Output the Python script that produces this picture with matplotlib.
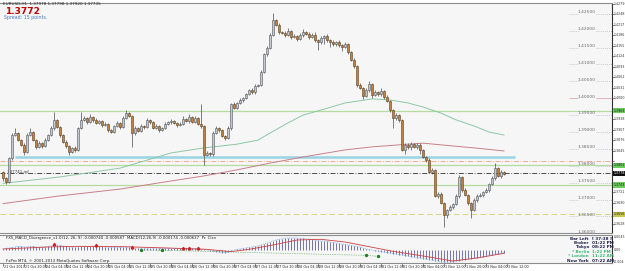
import matplotlib
matplotlib.use("Agg")
import matplotlib.pyplot as plt
import matplotlib.transforms as mtransforms
import numpy as np

########################################  data (EURUSD H1)

first_open = 1.3782

closes = [
    1.3764, 1.3752, 1.3823, 1.3891, 1.3897, 1.3876, 1.3862, 1.3841, 1.3891, 1.3900, 1.3876, 1.3856,
    1.3867, 1.3859, 1.3876, 1.3891, 1.3912, 1.3936, 1.3915, 1.3891, 1.3870, 1.3859, 1.3841, 1.3853,
    1.3847, 1.3912, 1.3936, 1.3941, 1.3930, 1.3944, 1.3936, 1.3927, 1.3933, 1.3921, 1.3924, 1.3906,
    1.3900, 1.3918, 1.3927, 1.3915, 1.3941, 1.3956, 1.3947, 1.3897, 1.3912, 1.3903, 1.3918, 1.3915,
    1.3936, 1.3930, 1.3912, 1.3918, 1.3906, 1.3912, 1.3924, 1.3930, 1.3933, 1.3927, 1.3921, 1.3924,
    1.3938, 1.3933, 1.3944, 1.3930, 1.3941, 1.3924, 1.3918, 1.3832, 1.3838, 1.3835, 1.3897, 1.3912,
    1.3906, 1.3888, 1.3882, 1.3912, 1.3983, 1.3971, 1.3986, 1.3995, 1.4001, 1.4012, 1.4024, 1.4018,
    1.4036, 1.4039, 1.4078, 1.4131, 1.4149, 1.4187, 1.4231, 1.4217, 1.4196, 1.4193, 1.4187, 1.4199,
    1.4181, 1.4184, 1.4175, 1.4187, 1.4196, 1.4190, 1.4181, 1.4187, 1.4172, 1.4166, 1.4178, 1.4184,
    1.4172, 1.4166, 1.4160, 1.4166, 1.4157, 1.4152, 1.4160, 1.4137, 1.4113, 1.4095, 1.4039, 1.4030,
    1.4007, 1.4024, 1.4042, 1.4010, 1.4018, 1.4012, 1.4021, 1.4004, 1.3992, 1.3965, 1.3941, 1.3950,
    1.3936, 1.3847, 1.3862, 1.3856, 1.3864, 1.3856, 1.3862, 1.3847, 1.3826, 1.3817, 1.3782, 1.3788,
    1.3711, 1.3717, 1.3690, 1.3654, 1.3669, 1.3678, 1.3687, 1.3711, 1.3767, 1.3728, 1.3714, 1.3690,
    1.3669, 1.3699, 1.3711, 1.3714, 1.3722, 1.3728, 1.3746, 1.3764, 1.3793, 1.3770, 1.3782, 1.3776,
]

# wick lengths beyond the body, in pips
wick_up_pips = [
    4, 3, 4, 5, 15, 4, 3, 4, 5, 12, 4, 3,
    6, 4, 5, 4, 5, 24, 4, 3, 4, 5, 3, 4,
    5, 4, 24, 6, 4, 8, 4, 5, 4, 3, 5, 4,
    3, 4, 5, 4, 5, 9, 4, 3, 5, 4, 5, 4,
    6, 4, 3, 5, 4, 4, 5, 4, 6, 4, 3, 5,
    8, 4, 8, 4, 5, 4, 60, 3, 5, 4, 5, 6,
    4, 3, 4, 5, 4, 5, 4, 5, 4, 5, 4, 5,
    6, 4, 5, 4, 6, 5, 21, 4, 5, 4, 5, 9,
    4, 5, 4, 6, 8, 4, 5, 6, 9, 4, 5, 4,
    6, 4, 5, 4, 5, 4, 6, 4, 3, 5, 4, 5,
    4, 6, 9, 4, 5, 4, 8, 4, 5, 4, 3, 6,
    4, 3, 5, 4, 6, 4, 5, 4, 3, 4, 5, 4,
    3, 5, 4, 3, 4, 5, 4, 5, 6, 4, 5, 3,
    4, 5, 4, 5, 4, 5, 4, 5, 15, 4, 5, 4,
]
wick_dn_pips = [
    8, 6, 4, 5, 4, 3, 4, 9, 4, 3, 4, 5,
    4, 5, 4, 3, 4, 5, 4, 5, 4, 5, 9, 4,
    5, 4, 3, 4, 5, 4, 5, 4, 3, 5, 4, 5,
    4, 3, 4, 5, 4, 3, 4, 42, 5, 4, 3, 5,
    4, 5, 4, 3, 5, 4, 3, 4, 5, 4, 5, 4,
    3, 4, 5, 4, 3, 4, 5, 30, 4, 6, 5, 4,
    5, 4, 5, 4, 5, 4, 3, 4, 5, 4, 3, 4,
    5, 4, 3, 4, 5, 4, 3, 4, 5, 4, 6, 4,
    5, 4, 6, 4, 5, 4, 6, 4, 5, 24, 4, 18,
    5, 15, 4, 5, 4, 12, 4, 5, 4, 5, 6, 4,
    9, 4, 5, 9, 4, 5, 4, 5, 4, 5, 30, 4,
    5, 4, 12, 5, 9, 4, 5, 12, 4, 5, 4, 5,
    4, 6, 4, 36, 9, 4, 5, 4, 5, 6, 4, 5,
    24, 4, 5, 4, 5, 4, 5, 4, 5, 4, 5, 4,
]

# moving averages (bar index, price)
green_ma_bars = [0, 19, 39, 56, 67, 78, 85, 89, 95, 100, 106, 114, 123, 129, 135, 140, 146, 151, 157, 162, 167]
green_ma = [1.3748, 1.3767, 1.3793, 1.3838, 1.3853, 1.3864, 1.3876, 1.3897, 1.3927, 1.3950, 1.3965,
            1.3986, 1.3998, 1.3995, 1.3986, 1.3974, 1.3956, 1.3936, 1.3918, 1.3900, 1.3891]
red_ma_bars = [0, 19, 39, 56, 67, 78, 89, 100, 114, 123, 135, 140, 146, 157, 167]
red_ma = [1.3688, 1.3711, 1.3731, 1.3755, 1.3770, 1.3788, 1.3808, 1.3826, 1.3847, 1.3856,
          1.3864, 1.3867, 1.3862, 1.3853, 1.3844]

# horizontal levels drawn on the chart
green_levels = [1.3963, 1.3801, 1.3743]
blue_level = 1.3827
salmon_level = 1.3814
bid_level = 1.3778
yellow_level = 1.3656
round_levels = [1.425, 1.420, 1.415, 1.410, 1.405, 1.400, 1.395, 1.390,
                1.385, 1.380, 1.375, 1.370, 1.365, 1.360]
price_ticks = [1.4279, 1.4248, 1.4217, 1.4186, 1.4155, 1.4124, 1.4093, 1.4062, 1.4031, 1.4000, 1.3969,
               1.3938, 1.3907, 1.3876, 1.3845, 1.3814, 1.3783, 1.3752, 1.3721, 1.3690, 1.3659, 1.3628]

# MACD sub window
macd_hist = [
    0.0003, 0.0005, 0.0006, 0.0008, 0.0009, 0.0011, 0.0011, 0.0009, 0.0009, 0.0011, 0.0011, 0.0009,
    0.0009, 0.0009, 0.0009, 0.0011, 0.0012, 0.0014, 0.0015, 0.0014, 0.0012, 0.0011, 0.0009, 0.0009,
    0.0009, 0.0009, 0.0011, 0.0011, 0.0011, 0.0011, 0.0012, 0.0012, 0.0011, 0.0011, 0.0009, 0.0009,
    0.0008, 0.0008, 0.0008, 0.0008, 0.0008, 0.0009, 0.0009, 0.0008, 0.0006, 0.0006, 0.0006, 0.0006,
    0.0006, 0.0006, 0.0006, 0.0006, 0.0005, 0.0005, 0.0005, 0.0005, 0.0005, 0.0005, 0.0005, 0.0005,
    0.0005, 0.0005, 0.0005, 0.0005, 0.0005, 0.0003, 0.0003, 0.0002, 0.0000, -0.0002, -0.0003, -0.0005,
    -0.0006, -0.0008, -0.0008, -0.0006, -0.0003, 0.0000, 0.0002, 0.0003, 0.0005, 0.0006, 0.0008, 0.0009,
    0.0011, 0.0012, 0.0015, 0.0018, 0.0021, 0.0024, 0.0027, 0.0030, 0.0032, 0.0033, 0.0035, 0.0036,
    0.0036, 0.0036, 0.0036, 0.0035, 0.0035, 0.0033, 0.0033, 0.0032, 0.0030, 0.0029, 0.0027, 0.0027,
    0.0026, 0.0024, 0.0023, 0.0021, 0.0020, 0.0018, 0.0017, 0.0015, 0.0014, 0.0012, 0.0011, 0.0009,
    0.0006, 0.0003, 0.0002, 0.0000, -0.0002, -0.0003, -0.0005, -0.0006, -0.0008, -0.0009, -0.0011, -0.0012,
    -0.0014, -0.0015, -0.0017, -0.0018, -0.0020, -0.0021, -0.0023, -0.0024, -0.0026, -0.0027, -0.0029, -0.0030,
    -0.0032, -0.0033, -0.0035, -0.0036, -0.0036, -0.0036, -0.0035, -0.0033, -0.0032, -0.0030, -0.0029, -0.0027,
    -0.0026, -0.0024, -0.0023, -0.0021, -0.0020, -0.0018, -0.0015, -0.0014, -0.0012, -0.0011, -0.0009, -0.0008,
]
signal_bars = [0, 15, 25, 40, 55, 68, 76, 82, 90, 98, 106, 114, 122, 130, 140, 150, 158, 167]
signal = [0.0003, 0.0009, 0.0011, 0.0010, 0.0006, 0.0002, -0.0005, 0.0002, 0.0015, 0.0030, 0.0032,
          0.0024, 0.0010, -0.0004, -0.0018, -0.0033, -0.0024, -0.0010]
bear_div_bars = [17, 31, 43, 60, 62, 65]
bear_div_vals = [0.0017, 0.0015, 0.0010, 0.0005, 0.0005, 0.0005]
bull_div_bars = [46, 53, 121, 125]
bull_div_vals = [0.0000, -0.0001, -0.0016, -0.0019]

time_labels = ["21 Oct 2013", "21 Oct 20:00", "24 Oct 04:00", "24 Oct 12:00", "24 Oct 20:00",
               "25 Oct 04:00", "25 Oct 12:00", "25 Oct 20:00", "26 Oct 04:00", "26 Oct 12:00",
               "26 Oct 20:00", "27 Oct 04:00", "27 Oct 12:00", "27 Oct 20:00", "28 Oct 04:00",
               "28 Oct 12:00", "28 Oct 20:00", "31 Oct 04:00", "31 Oct 12:00", "31 Oct 20:00",
               "1 Nov 04:00", "1 Nov 12:00", "1 Nov 20:00", "3 Nov 04:00", "3 Nov 12:00"]

########################################  layout helpers

W, H = 625, 271
BG = '#f6f6f6'
FONT = 'DejaVu Sans'


def fx(px):
    return px / W


def fy(py):
    return 1 - py / H


fig = plt.figure(figsize=(W / 100, H / 100), dpi=100, facecolor='#ffffff')
ax = fig.add_axes([0, fy(233), fx(612), (233 - 3) / H], facecolor=BG)
sub = fig.add_axes([0, fy(263), fx(612), (263 - 235) / H], facecolor=BG)

XMIN, XMAX = -1, 203
for a in (ax, sub):
    a.set_xlim(XMIN, XMAX)
    a.set_xticks([])
    a.set_yticks([])
    for s in a.spines.values():
        s.set_color('#8c8c8c')
        s.set_linewidth(0.8)
    a.spines['left'].set_visible(False)
    a.spines['right'].set_color('#303030')
ax.set_ylim(1.3601, 1.4282)
sub.set_ylim(-0.0039, 0.0045)

########################################  main window

x = np.arange(len(closes))
c = np.array(closes)
o = np.r_[first_open, c[:-1]]
hi = np.maximum(o, c) + np.array(wick_up_pips) * 0.0001
lo = np.minimum(o, c) - np.array(wick_dn_pips) * 0.0001

# horizontal levels first (behind the candles)
for lv in green_levels:
    ax.axhline(lv, color='#b4dca0', lw=0.9, zorder=1)
ax.axhline(salmon_level, color='#e8a088', lw=0.6, ls=(0, (6, 2, 1, 2)), zorder=1)
ax.axhline(bid_level, color='#303030', lw=0.6, ls=(0, (6, 2, 1, 2)), zorder=1)
ax.axhline(yellow_level, color='#d6d88c', lw=0.8, ls=(0, (5, 3)), zorder=1)
ax.hlines(blue_level, 4, 170.7, color='#9ad4e4', lw=1.8, zorder=1)

ax.plot(green_ma_bars, green_ma, color='#8cc8a4', lw=0.7, zorder=2)
ax.plot(red_ma_bars, red_ma, color='#c88088', lw=0.7, zorder=2)

# candles
ax.vlines(x, lo, hi, color='#4c4c4c', lw=0.5, zorder=3)
body = np.where(np.abs(c - o) < 0.00006, 0.00006, c - o)
up = c >= o
ax.bar(x[up], body[up], bottom=o[up], width=0.75, color='#c4c8cc', edgecolor='#50565c', lw=0.4, zorder=4)
ax.bar(x[~up], body[~up], bottom=o[~up], width=0.75, color='#c4823c', edgecolor='#5a4020', lw=0.4, zorder=4)

# round level labels on the right of the chart
for lv in round_levels:
    col = '#e0a8b0' if lv == 1.400 else '#b4b4c8'
    ls = '-' if lv == 1.400 else (0, (1, 1.5))
    ax.hlines(lv, 188.5, 191.5, color=col, lw=0.6, ls=ls, zorder=2)
    ax.hlines(lv, 197.5, 203, color=col, lw=0.6, ls=ls, zorder=2)
    ax.text(194.5, lv + 0.0005, f"{lv:.5f}", fontsize=3.2, color='#6c6c6c', family=FONT,
            ha='center', va='center', zorder=5, clip_on=False)

# price scale on the right edge (highlighted boxes cover the plain ticks they sit on)
tr = mtransforms.blended_transform_factory(fig.transFigure, ax.transData)
boxes = [(green_levels[0], '#6ccc5c', '#102010'), (green_levels[1], '#6ccc5c', '#102010'),
         (green_levels[2], '#6ccc5c', '#102010'), (bid_level, '#101010', '#ffffff'),
         (yellow_level, '#c8c850', '#202010')]
box_vals = [b[0] for b in boxes]
for v in price_ticks:
    ax.plot([fx(612), fx(613.5)], [v, v], transform=tr, color='#303030', lw=0.4, clip_on=False)
    if min(abs(v - bv) for bv in box_vals) < 0.0013:
        continue
    ax.text(fx(613.8), v, f"{v:.4f}", transform=tr, fontsize=2.3, color='#303030',
            family=FONT, va='center', ha='left', clip_on=False)
for v, fc, tc in boxes:
    ax.text(fx(613.8), v, f"{v:.4f}", transform=tr, fontsize=2.3, color=tc, family=FONT,
            va='center', ha='left', clip_on=False,
            bbox=dict(boxstyle='square,pad=0.2', fc=fc, ec='none'))

# small reference tag near the bid line
ax.text(1.2, bid_level + 0.0003, "1.37741,ref", fontsize=2.8, color='#303030', family=FONT,
        va='center', ha='left')

# header texts
fig.text(fx(3), fy(4), "EURUSD,H1  1.37978 1.37798 1.37920 1.37735", fontsize=3.0,
         color='#202020', family=FONT, va='center')
fig.text(fx(5), fy(11), "1.3772", fontsize=6.5, color='#c00000', weight='bold', family=FONT, va='center')
fig.text(fx(4), fy(18), "Spread: 15 points.", fontsize=3.4, color='#4a7cc8', family=FONT, va='center')

########################################  MACD window

hist = np.array(macd_hist)
sub.vlines(x, 0, hist, color='#404088', lw=0.5, zorder=2)
sub.plot(x, hist, color='#8cb4ec', lw=0.5, ls=(0, (2, 1)), zorder=3)
sub.plot(signal_bars, signal, color='#d04040', lw=0.6, zorder=3)
sub.plot(bull_div_bars, bull_div_vals, color='#40a040', lw=0.5, ls=(0, (1, 1.5)), zorder=3)
sub.plot(bull_div_bars, bull_div_vals, ls='none', marker='o', ms=1.4, color='#208020', zorder=4)
sub.plot(bear_div_bars, bear_div_vals, ls='none', marker='^', ms=1.8, color='#d02020', zorder=4)

sub.text(1, 0.0036, "FX5_MACD_Divergence_v1.0(12, 26, 9) -0.000740 -0.000587  MACD(12,26,9) -0.000174 -0.000637  Pr. Clsn",
         fontsize=2.8, color='#202020', family=FONT, va='center')
sub.text(1, -0.0033, "FxPro MT4, \u00a9 2001-2013 MetaQuotes Software Corp.",
         fontsize=2.8, color='#202020', family=FONT, va='center')

trs = mtransforms.blended_transform_factory(fig.transFigure, sub.transData)
for v, lab in [(0.0040, "0.0045"), (0.0, "0.00"), (-0.0036, "-0.004")]:
    sub.text(fx(613.8), v, lab, transform=trs, fontsize=2.3, color='#303030', family=FONT,
             va='center', ha='left', clip_on=False)

# session clock panel
clock = [("Bar Left", "[ 37:38 ]", '#202050'), ("Broker", "01:22 PM", '#202050'),
         ("Tokyo", "08:22 PM", '#202050'), ("* Berlin", "1:22 PM", '#3cb878'),
         ("* London", "11:22 AM", '#3cb878'), ("New York", "07:22 AM", '#202050')]
for k, (name, t, col) in enumerate(clock):
    py = 238.5 + k * 4.4
    fig.text(fx(589), fy(py), name, fontsize=3.0, color=col, weight='bold', family=FONT,
             ha='right', va='center')
    fig.text(fx(592), fy(py), t, fontsize=3.0, color=col, weight='bold', family=FONT,
             ha='left', va='center')

# time axis
tick_bars = np.arange(len(time_labels)) * 7
trx = mtransforms.blended_transform_factory(sub.transData, fig.transFigure)
for b, lab in zip(tick_bars, time_labels):
    sub.plot([b, b], [fy(263), fy(265.5)], transform=trx, color='#303030', lw=0.4, clip_on=False)
    sub.text(b + 0.4, fy(267.5), lab, transform=trx, fontsize=2.4, color='#202020', family=FONT,
             ha='left', va='center', clip_on=False)

fig.savefig("out.png", dpi=100, facecolor=fig.get_facecolor())
